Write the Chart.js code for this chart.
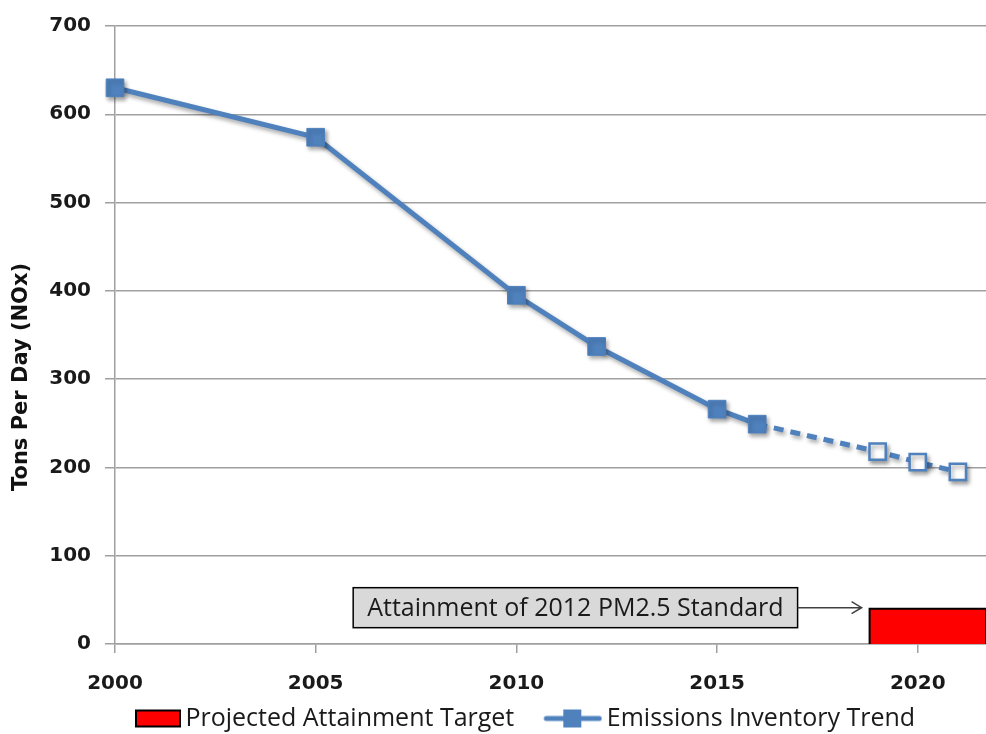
<!DOCTYPE html>
<html>
<head>
<meta charset="utf-8">
<script src="https://cdn.jsdelivr.net/npm/chart.js@4/dist/chart.umd.min.js"></script>
<style>
  html, body { margin: 0; padding: 0; background: #fff; overflow: hidden; }
  #wrap { width: 986px; height: 734px; }
</style>
</head>
<body>
<div id="wrap"><canvas id="grafico"></canvas></div>
<script>
// dados
const anos = [2000, 2005, 2010, 2012, 2015, 2016, 2019, 2020, 2021];
const emissoes = [630, 574, 395, 337, 266, 249, 218, 206, 195];
const ultimoAnoInventario = 2016; // depois disso e projecao (tracejado)

const alvoInicio = 2018.8;
const alvoFim = 2021.7;
const alvoValor = 40;

const xTicks = [2000, 2005, 2010, 2015, 2020];
const yTicks = [0, 100, 200, 300, 400, 500, 600, 700];

const tituloY = 'Tons Per Day (NOx)';

const azul = '#4F81BD';
const vermelho = '#FF0000';
const fonteTexto = 'Open Sans';

// icones da legenda (86px de largura, 8px passam da caixa de cada lado)
function iconeAlvo() {
  const c = document.createElement('canvas');
  c.width = 86; c.height = 20;
  const g = c.getContext('2d');
  g.fillStyle = vermelho;
  g.fillRect(41, 2, 44, 16);
  g.strokeStyle = '#000';
  g.lineWidth = 2;
  g.strokeRect(41, 2, 44, 16);
  return c;
}
function iconeTendencia() {
  const c = document.createElement('canvas');
  c.width = 86; c.height = 20;
  const g = c.getContext('2d');
  g.strokeStyle = azul;
  g.lineWidth = 5;
  g.lineCap = 'round';
  g.beginPath(); g.moveTo(30, 10); g.lineTo(83, 10); g.stroke();
  g.fillStyle = azul;
  g.fillRect(47, 1, 18, 18);
  return c;
}

const sombra = {
  id: 'sombra',
  beforeDatasetDraw(chart, args) {
    if (args.index !== 1) return;
    const ctx = chart.ctx;
    ctx.save();
    ctx.shadowColor = 'rgba(0,0,0,0.35)';
    ctx.shadowBlur = 4;
    ctx.shadowOffsetX = 2;
    ctx.shadowOffsetY = 3;
  },
  afterDatasetDraw(chart, args) {
    if (args.index !== 1) return;
    chart.ctx.restore();
  }
};

const anotacao = {
  id: 'anotacao',
  afterDatasetsDraw(chart) {
    const ctx = chart.ctx;
    const x = chart.scales.x, y = chart.scales.y;
    const xBar = x.getPixelForValue(alvoInicio);
    const yBar = y.getPixelForValue(alvoValor);
    const texto = 'Attainment of 2012 PM2.5 Standard';
    ctx.save();
    ctx.font = '25px "' + fonteTexto + '"';
    const tw = ctx.measureText(texto).width;
    const bw = tw + 28, bh = 40;
    const bx = xBar - 72 - bw;
    const by = yBar - 1 - bh / 2;
    ctx.fillStyle = '#D9D9D9';
    ctx.fillRect(bx, by, bw, bh);
    ctx.strokeStyle = '#000';
    ctx.lineWidth = 1.5;
    ctx.strokeRect(bx, by, bw, bh);
    ctx.fillStyle = '#1a1a1a';
    ctx.textBaseline = 'middle';
    ctx.textAlign = 'center';
    ctx.fillText(texto, bx + bw / 2, by + bh / 2 + 1);
    // seta
    const ay = by + bh / 2;
    const ax = xBar - 8;
    ctx.strokeStyle = '#404040';
    ctx.lineWidth = 1.5;
    ctx.beginPath();
    ctx.moveTo(bx + bw, ay);
    ctx.lineTo(ax, ay);
    ctx.moveTo(ax - 10, ay - 6);
    ctx.lineTo(ax, ay);
    ctx.lineTo(ax - 10, ay + 6);
    ctx.stroke();

    // titulo do eixo y, um pouco abaixo do centro como no original
    const area = chart.chartArea;
    ctx.translate(22, area.bottom - 267);
    ctx.rotate(-Math.PI / 2);
    ctx.font = 'bold 21px "DejaVu Sans"';
    ctx.fillStyle = '#111';
    ctx.fillText(tituloY, 0, 0);
    ctx.restore();
  }
};

const moverLegenda = {
  id: 'moverLegenda',
  afterLayout(chart) {
    const l = chart.legend;
    l.left += 16; l.right += 16;
    l.top += 7; l.bottom += 7;
  }
};

const ctx = document.getElementById('grafico').getContext('2d');
const grafico = new Chart(ctx, {
  type: 'line',
  data: {
    datasets: [
      {
        label: 'Projected Attainment Target',
        data: [
          {x: alvoInicio, y: 0},
          {x: alvoInicio, y: alvoValor},
          {x: alvoFim, y: alvoValor},
          {x: alvoFim, y: 0}
        ],
        borderColor: '#000',
        borderWidth: 2,
        backgroundColor: vermelho,
        fill: 'origin',
        pointRadius: 0,
        tension: 0
      },
      {
        label: 'Emissions Inventory Trend',
        data: anos.map((a, i) => ({x: a, y: emissoes[i]})),
        clip: false,
        borderColor: azul,
        borderWidth: 5,
        fill: false,
        tension: 0,
        pointStyle: 'rect',
        pointRadius: c => anos[c.dataIndex] > ultimoAnoInventario ? 11.5 : 12.5,
        pointBackgroundColor: c => anos[c.dataIndex] > ultimoAnoInventario ? '#fff' : azul,
        pointBorderColor: azul,
        pointBorderWidth: c => anos[c.dataIndex] > ultimoAnoInventario ? 2.5 : 1,
        segment: {
          borderDash: s => s.p0.parsed.x >= ultimoAnoInventario ? [10, 7] : undefined
        }
      }
    ]
  },
  options: {
    responsive: true,
    maintainAspectRatio: false,
    animation: false,
    layout: { autoPadding: false, padding: { top: 24, right: 0, bottom: 0, left: 0 } },
    plugins: {
      tooltip: { enabled: false },
      legend: {
        position: 'bottom',
        labels: {
          usePointStyle: true,
          pointStyleWidth: 70,
          padding: 10,
          color: '#1a1a1a',
          font: { family: fonteTexto, size: 25 },
          generateLabels: chart => [
            { text: 'Projected Attainment Target', pointStyle: iconeAlvo(), datasetIndex: 0, fontColor: '#1a1a1a', lineWidth: 0, strokeStyle: 'transparent', fillStyle: 'transparent' },
            { text: 'Emissions Inventory Trend', pointStyle: iconeTendencia(), datasetIndex: 1, fontColor: '#1a1a1a', lineWidth: 0, strokeStyle: 'transparent', fillStyle: 'transparent' }
          ]
        }
      }
    },
    scales: {
      x: {
        type: 'linear',
        min: 2000,
        max: alvoFim,
        afterBuildTicks: s => { s.ticks = xTicks.map(v => ({value: v})); },
        afterFit: s => { s.height = 45; },
        grid: { drawOnChartArea: false, color: '#A0A0A0', tickLength: 9, lineWidth: 1.5 },
        border: { color: '#A0A0A0', width: 1.5 },
        ticks: {
          padding: 19,
          color: '#1a1a1a',
          maxRotation: 0,
          font: { family: 'DejaVu Sans', size: 20, weight: 'bold' },
          callback: v => String(v)
        }
      },
      y: {
        min: 0,
        max: 700,
        afterBuildTicks: s => { s.ticks = yTicks.map(v => ({value: v})); },
        afterFit: s => { s.width = 115; },
        grid: { color: '#A0A0A0', tickLength: 10, lineWidth: 1.5 },
        border: { color: '#A0A0A0', width: 1.5 },
        ticks: {
          padding: 14,
          color: '#1a1a1a',
          font: { family: 'DejaVu Sans', size: 20, weight: 'bold' }
        }
      }
    }
  },
  plugins: [sombra, anotacao, moverLegenda]
});
</script>
</body>
</html>
